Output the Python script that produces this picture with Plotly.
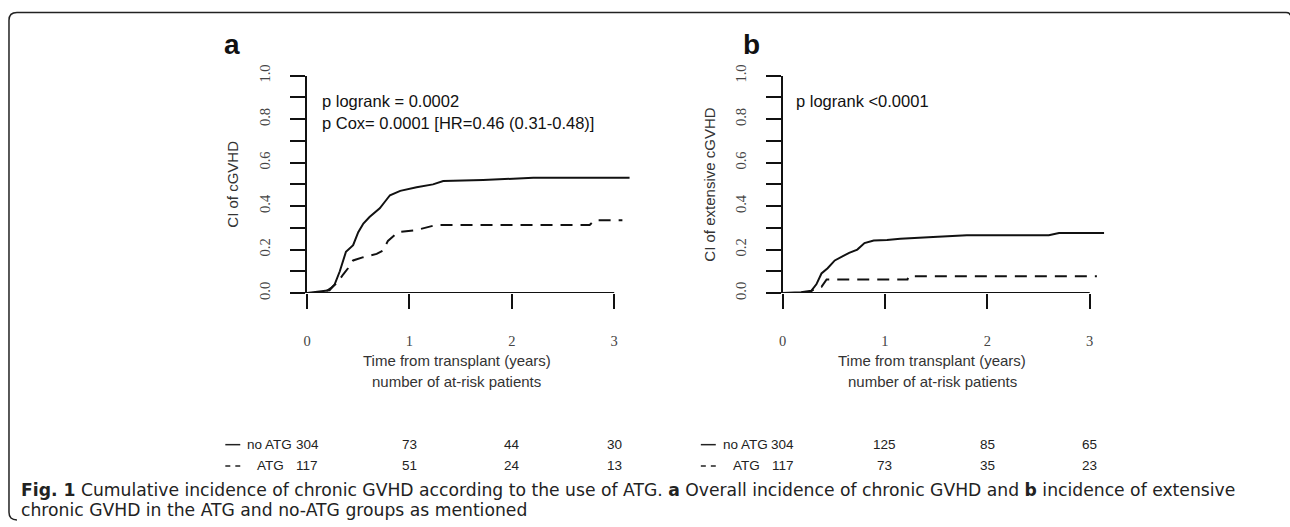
import plotly.graph_objects as go

W, H = 1290, 527


def px(x):
    return x / W


def py(y):
    return 1 - y / H


# ---------------- data ----------------
# Panel a: cumulative incidence of cGVHD
t_a_noatg = [0, 0.16, 0.22, 0.27, 0.32, 0.38, 0.45, 0.50, 0.55, 0.61, 0.66, 0.71, 0.76, 0.81, 0.91,
             1.07, 1.23, 1.33, 1.72, 1.95, 2.21, 3.15]
ci_a_noatg = [0, 0.007, 0.013, 0.04, 0.10, 0.19, 0.22, 0.28, 0.32, 0.35, 0.37, 0.39, 0.42, 0.45, 0.47,
              0.487, 0.50, 0.515, 0.52, 0.524, 0.53, 0.53]
t_a_atg = [0, 0.16, 0.24, 0.30, 0.35, 0.40, 0.45, 0.55, 0.68, 0.74, 0.79, 0.84, 0.89, 1.07, 1.20, 1.26,
           2.76, 2.81, 3.08]
ci_a_atg = [0, 0, 0.025, 0.05, 0.084, 0.114, 0.15, 0.165, 0.18, 0.195, 0.24, 0.26, 0.28, 0.29, 0.305,
            0.313, 0.313, 0.335, 0.335]

# Panel b: cumulative incidence of extensive cGVHD
t_b_noatg = [0, 0.18, 0.28, 0.33, 0.38, 0.44, 0.51, 0.57, 0.65, 0.73, 0.80, 0.89, 1.02, 1.15, 1.31,
             1.47, 1.80, 2.60, 2.70, 3.14]
ci_b_noatg = [0, 0.004, 0.01, 0.04, 0.09, 0.114, 0.15, 0.165, 0.185, 0.20, 0.23, 0.242, 0.244, 0.25,
              0.255, 0.258, 0.266, 0.266, 0.276, 0.276]
t_b_atg = [0, 0.25, 0.31, 0.38, 0.43, 1.22, 1.23, 3.07]
ci_b_atg = [0, 0, 0.018, 0.028, 0.062, 0.062, 0.077, 0.077]

# Number at risk
risk_times = [0, 1, 2, 3]
risk_a_noatg = [304, 73, 44, 30]
risk_a_atg = [117, 51, 24, 13]
risk_b_noatg = [304, 125, 85, 65]
risk_b_atg = [117, 73, 35, 23]

x_tickvals = [0, 1, 2, 3]
x_ticktext = ["0", "1", "2", "3"]
y_tickvals = [0, 0.2, 0.4, 0.6, 0.8, 1.0]
y_ticktext = ["0.0", "0.2", "0.4", "0.6", "0.8", "1.0"]
y_minorvals = [0.1, 0.3, 0.5, 0.7, 0.9]

# ---------------- figure ----------------
fig = go.Figure()

solid = dict(color="#111111", width=2)
dashed = dict(color="#111111", width=2, dash="12px,8px")

fig.add_trace(go.Scatter(x=t_a_noatg, y=ci_a_noatg, mode="lines", line=solid, xaxis="x", yaxis="y",
                         showlegend=False, hoverinfo="skip"))
fig.add_trace(go.Scatter(x=t_a_atg, y=ci_a_atg, mode="lines", line=dashed, xaxis="x", yaxis="y",
                         showlegend=False, hoverinfo="skip"))
fig.add_trace(go.Scatter(x=t_b_noatg, y=ci_b_noatg, mode="lines", line=solid, xaxis="x2", yaxis="y2",
                         showlegend=False, hoverinfo="skip"))
fig.add_trace(go.Scatter(x=t_b_atg, y=ci_b_atg, mode="lines", line=dashed, xaxis="x2", yaxis="y2",
                         showlegend=False, hoverinfo="skip"))

YEAR_PX = 102.7
XMAX = 3.2
y_dom = [py(292), py(67)]
xa_dom = [px(304), px(304 + XMAX * YEAR_PX)]
xb_dom = [px(781), px(781 + XMAX * YEAR_PX)]

tickfont = dict(family="Liberation Serif", size=14.5, color="#444444")


def xaxis(dom, anchor):
    return dict(domain=dom, anchor=anchor, range=[0, XMAX], showline=False, showgrid=False,
                zeroline=False, ticks="outside", ticklen=15, tickwidth=2, tickcolor="#111111",
                tickvals=x_tickvals, ticktext=x_ticktext, tickfont=tickfont,
                ticklabelstandoff=20, fixedrange=True)


def yaxis(anchor):
    return dict(domain=y_dom, anchor=anchor, range=[0, 1], showline=True, linewidth=2,
                linecolor="#111111", showgrid=False, zeroline=False, ticks="outside", ticklen=15,
                tickwidth=2, tickcolor="#111111", tickvals=y_tickvals, ticktext=y_ticktext,
                tickangle=-90, tickfont=tickfont, ticklabelstandoff=14, fixedrange=True,
                minor=dict(tickvals=y_minorvals, ticks="outside", ticklen=15, tickwidth=2,
                           tickcolor="#111111"))


fig.update_layout(
    width=W, height=H, margin=dict(l=0, r=0, t=0, b=0),
    paper_bgcolor="white", plot_bgcolor="white",
    xaxis=xaxis(xa_dom, "y"), yaxis=yaxis("x"),
    xaxis2=xaxis(xb_dom, "y2"), yaxis2=yaxis("x2"),
    font=dict(family="Liberation Sans", color="#222222"),
)

shapes = []
# x axis lines from 0 to 3
for xr, yr in (("x", "y"), ("x2", "y2")):
    shapes.append(dict(type="line", xref=xr, yref=yr, x0=0, x1=3, y0=0, y1=0,
                       line=dict(color="#111111", width=2)))

# rounded frame
FL, FT = 5, 1.5
frame_path = (f"M {px(FL + 8)} {py(527)} Q {px(FL)} {py(527)} {px(FL)} {py(519)} "
              f"L {px(FL)} {py(FT + 8)} Q {px(FL)} {py(FT)} {px(FL + 8)} {py(FT)} "
              f"L {px(1286)} {py(FT)} Q {px(1290)} {py(FT)} {px(1290)} {py(FT + 3)}")
shapes.append(dict(type="path", xref="paper", yref="paper", path=frame_path,
                   line=dict(color="#222222", width=1.5)))

annotations = []


def ann(text, x, y, size=15, xanchor="left", color="#111111", family="Liberation Sans", **kw):
    annotations.append(dict(text=text, x=x, y=y, xref=kw.pop("xref", "paper"), yref="paper",
                            xanchor=xanchor, yanchor="middle", showarrow=False,
                            font=dict(size=size, color=color, family=family), **kw))


# panel letters
ann("<b>a</b>", px(229), py(35), size=28, xanchor="center")
ann("<b>b</b>", px(750), py(35), size=28, xanchor="center")

# p-values
ann("p logrank = 0.0002", px(317), py(93), size=16.5)
ann("p Cox= 0.0001 [HR=0.46 (0.31-0.48)]", px(317), py(116), size=16.5)
ann("p logrank <0.0001", px(792), py(93), size=16.5)

# axis titles
ann("CI of cGVHD", px(229), py(179.5), size=15, xanchor="center", color="#333333", textangle=-90)
ann("CI of extensive cGVHD", px(708), py(180), size=15, xanchor="center", color="#333333",
    textangle=-90)
for cx in (454, 931):
    ann("Time from transplant (years)", px(cx), py(362), xanchor="center", color="#333333")
    ann("number of at-risk patients", px(cx), py(384), xanchor="center", color="#333333")

# risk table
row1_y, row2_y = 449, 471
for xr, lx, noatg, atg in (("x", 222, risk_a_noatg, risk_a_atg), ("x2", 699, risk_b_noatg, risk_b_atg)):
    shapes.append(dict(type="line", xref="paper", yref="paper", x0=px(lx), x1=px(lx + 15),
                       y0=py(row1_y), y1=py(row1_y), line=dict(color="#222222", width=1.5)))
    shapes.append(dict(type="line", xref="paper", yref="paper", x0=px(lx), x1=px(lx + 15),
                       y0=py(row2_y), y1=py(row2_y),
                       line=dict(color="#222222", width=1.5, dash="5px,5px")))
    ann("no ATG", px(lx + 69), py(row1_y), size=13.5, color="#222222", xanchor="right")
    ann("ATG", px(lx + 30), py(row2_y), size=13.5, color="#222222")
    for t, n1, n2 in zip(risk_times, noatg, atg):
        ann(str(n1), t, py(row1_y), size=13.5, xanchor="center", color="#222222", xref=xr)
        ann(str(n2), t, py(row2_y), size=13.5, xanchor="center", color="#222222", xref=xr)

# caption
ann("<b>Fig. 1</b> Cumulative incidence of chronic GVHD according to the use of ATG. "
    "<b>a</b> Overall incidence of chronic GVHD and <b>b</b> incidence of extensive",
    px(15), py(496), size=17.2, family="DejaVu Sans", color="#222222")
ann("chronic GVHD in the ATG and no-ATG groups as mentioned",
    px(15), py(517), size=17.2, family="DejaVu Sans", color="#222222")

fig.update_layout(shapes=shapes, annotations=annotations)

fig.write_html("out.html", config={"displayModeBar": False},
               post_script="document.body.style.margin='0';")
